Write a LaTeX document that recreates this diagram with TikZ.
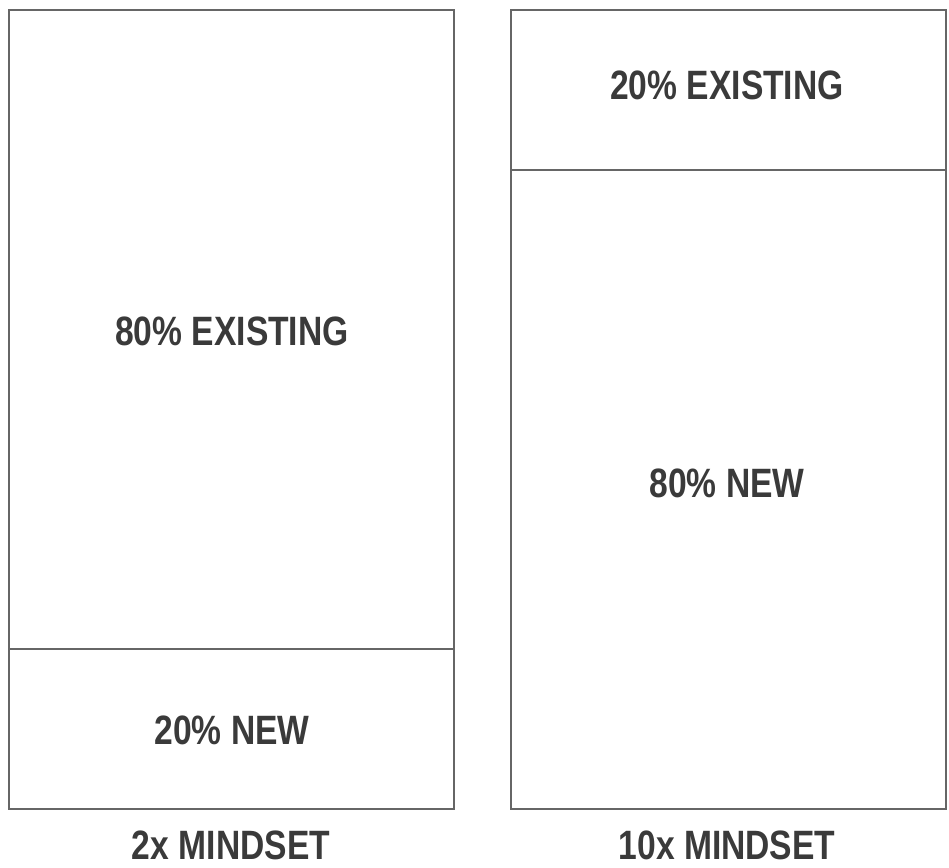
\documentclass[tikz,border=0pt]{standalone}
\usepackage{fontspec}
\setmainfont[FakeStretch=0.82]{Liberation Sans}
\definecolor{linegray}{HTML}{666666}
\definecolor{textgray}{HTML}{3A3A3A}
\begin{document}
\begin{tikzpicture}[x=1bp,y=-1bp,
  section/.style={draw=linegray, line width=1.4bp, inner sep=0pt, outer sep=0pt},
  label/.style={text=textgray, font=\fontsize{41bp}{49bp}\selectfont\bfseries, inner sep=0pt}]
\useasboundingbox (0,0) rectangle (949,868);

% 2x mindset column
\node[section, minimum width=445bp, minimum height=639bp] (lt) at (231.5,329.5) {};
\node[section, minimum width=445bp, minimum height=160bp] (lb) at (231.5,729) {};
% 10x mindset column
\node[section, minimum width=435bp, minimum height=160bp] (rt) at (728.5,90) {};
\node[section, minimum width=435bp, minimum height=639bp] (rb) at (728.5,489.5) {};

% section labels
\node[label] (ltText) at (232,331) {80\% EXISTING};
\node[label] (lbText) at (232,730) {20\% NEW};
\node[label] (rtText) at (727,85) {20\% EXISTING};
\node[label] (rbText) at (727,483) {80\% NEW};

% column captions
\node[label] (lCap) at (231,845) {2x MINDSET};
\node[label] (rCap) at (727,845) {10x MINDSET};
\end{tikzpicture}
\end{document}
